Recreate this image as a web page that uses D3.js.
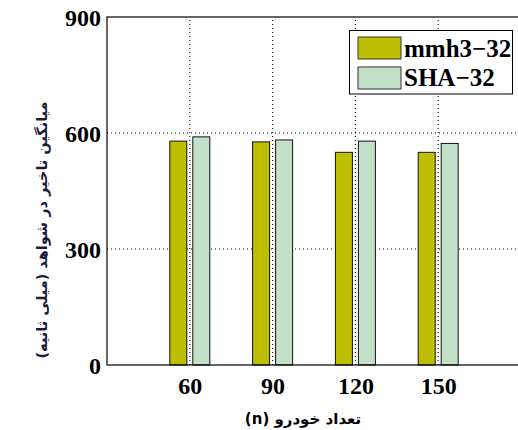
<!DOCTYPE html>
<html>
<head>
<meta charset="utf-8">
<script src="https://cdn.jsdelivr.net/npm/d3@7"></script>
<style>
html,body{margin:0;padding:0;background:#fff;}
svg{display:block;}
</style>
</head>
<body>
<script>
const categories = [60, 90, 120, 150];
const seriesNames = ["mmh3\u221232", "SHA\u221232"];
const mmh3Values = [579, 577, 550, 550];
const shaValues = [590, 582, 579, 573];
const yTicks = [0, 300, 600, 900];
const xLabel = "تعداد خودرو (n)";
const yLabel = "میانگین تاخیر در شواهد (میلی ثانیه)";
const colors = ["#bfbf00", "#c2dfc7"];

const W = 518, H = 430;
const svg = d3.select("body").append("svg").attr("width", W).attr("height", H);

const x = d3.scaleLinear().domain([30, 180]).range([107, 521]);
const y = d3.scaleLinear().domain([0, 900]).range([365, 17]);

const serif = "'Liberation Serif','Times New Roman',serif";

// gridlines
const grid = svg.append("g");
grid.selectAll("line.v").data(categories).join("line")
  .attr("x1", d => x(d)).attr("x2", d => x(d))
  .attr("y1", y(0)).attr("y2", y(900))
  .attr("stroke", "#000").attr("stroke-width", 1)
  .attr("stroke-dasharray", "1,3");
grid.selectAll("line.h").data(yTicks.filter(d => d > 0 && d < 900)).join("line")
  .attr("x1", x(30)).attr("x2", x(180))
  .attr("y1", d => y(d)).attr("y2", d => y(d))
  .attr("stroke", "#000").attr("stroke-width", 1)
  .attr("stroke-dasharray", "1,3");

// bars
const series = [mmh3Values, shaValues];
const offsets = [[-20, -3], [3, 20]];
series.forEach((vals, si) => {
  svg.append("g").selectAll("rect").data(categories).join("rect")
    .attr("x", (d) => x(d) + offsets[si][0])
    .attr("width", offsets[si][1] - offsets[si][0])
    .attr("y", (d, i) => y(vals[i]))
    .attr("height", (d, i) => y(0) - y(vals[i]))
    .attr("fill", colors[si])
    .attr("stroke", "#111").attr("stroke-width", 1);
});

// frame
svg.append("rect")
  .attr("x", x(30)).attr("y", y(900))
  .attr("width", x(180) - x(30)).attr("height", y(0) - y(900))
  .attr("fill", "none").attr("stroke", "#000").attr("stroke-width", 1.2);

// axes
const xAxis = d3.axisBottom(x).tickValues(categories).tickSize(0).tickPadding(12);
const gx = svg.append("g").attr("transform", `translate(0,${y(0)})`).call(xAxis);
gx.select(".domain").remove();
gx.selectAll("text").attr("font-family", serif).attr("font-weight", "bold")
  .attr("font-size", 24).attr("fill", "#000").attr("dy", "0.71em");

const yAxis = d3.axisLeft(y).tickValues(yTicks).tickSize(0).tickPadding(6);
const gy = svg.append("g").attr("transform", `translate(${x(30)},0)`).call(yAxis);
gy.select(".domain").remove();
gy.selectAll("text").attr("font-family", serif).attr("font-weight", "bold")
  .attr("font-size", 24).attr("fill", "#000").attr("dy", "0.35em");

// axis labels
svg.append("text")
  .attr("x", 303).attr("y", 424)
  .attr("text-anchor", "middle")
  .attr("font-family", "'DejaVu Sans',sans-serif").attr("font-weight", "bold")
  .attr("font-size", 15).attr("fill", "#000")
  .attr("direction", "rtl")
  .text(xLabel);

svg.append("text")
  .attr("transform", "translate(47,230) rotate(-90)")
  .attr("text-anchor", "middle")
  .attr("font-family", "'DejaVu Sans',sans-serif").attr("font-weight", "bold")
  .attr("font-size", 14.5).attr("fill", "#1a1a3a")
  .attr("direction", "rtl")
  .text(yLabel);

// legend
const lg = svg.append("g");
lg.append("rect").attr("x", 349.5).attr("y", 30.5).attr("width", 163).attr("height", 63.5)
  .attr("fill", "#fff").attr("stroke", "#000").attr("stroke-width", 1);
seriesNames.forEach((name, i) => {
  lg.append("rect").attr("x", 358).attr("y", 37 + i * 30).attr("width", 43).attr("height", 22)
    .attr("fill", colors[i]).attr("stroke", "#333").attr("stroke-width", 1);
  lg.append("text").attr("x", 404).attr("y", 57 + i * 29)
    .attr("font-family", serif).attr("font-weight", "bold")
    .attr("font-size", 25).attr("fill", "#000")
    .text(name);
});
</script>
</body>
</html>
